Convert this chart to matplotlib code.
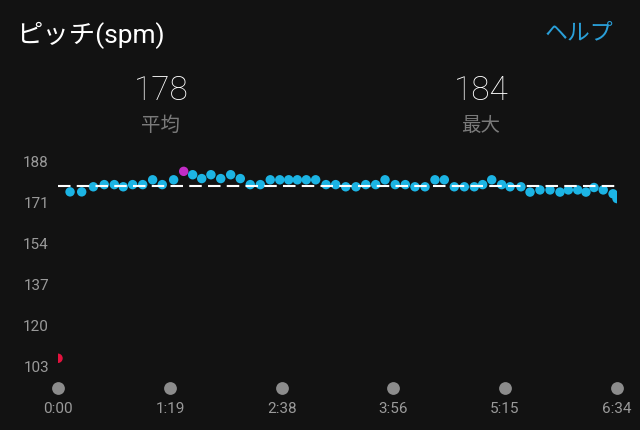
import matplotlib
matplotlib.use("Agg")
import matplotlib.pyplot as plt
import matplotlib.transforms as mtransforms

# ---- data ----
times = [0, 8.5, 16.7, 24.9, 32.6, 39.7, 46.0, 52.6, 59.7, 66.7, 73.5, 81.5, 88.6,
         94.9, 101.3, 107.8, 114.7, 121.7, 128.5, 135.5, 142.6, 149.6, 156.3, 162.6,
         168.7, 175.0, 181.6, 188.9, 195.7, 202.8, 210.0, 216.9, 223.9, 230.5, 237.7,
         244.8, 251.6, 258.7, 265.7, 272.3, 279.3, 286.4, 293.4, 299.3, 305.7, 312.7,
         318.6, 326.3, 332.7, 339.7, 346.8, 353.8, 359.7, 366.3, 372.1, 377.8, 384.3,
         391.2, 394]
cadence = [106.5, 175.5, 175.5, 177.6, 178.5, 178.5, 177.6, 178.5, 178.5, 180.5, 178.5,
           180.5, 184.0, 182.6, 181.0, 182.6, 181.0, 182.6, 181.0, 178.5, 178.5, 180.5,
           180.5, 180.5, 180.5, 180.5, 180.5, 178.5, 178.5, 177.6, 177.6, 178.5, 178.5,
           180.5, 178.5, 178.5, 177.6, 177.6, 180.5, 180.5, 177.6, 177.6, 177.6, 178.5,
           180.5, 178.5, 177.6, 177.6, 175.4, 176.3, 176.3, 175.4, 176.3, 176.3, 175.4,
           177.3, 176.3, 174.7, 172.7]
avg_value = 178
max_value = 184
y_ticks = [103, 120, 137, 154, 171, 188]
x_tick_secs = [0, 79, 158, 236, 315, 394]
x_tick_labels = ["0:00", "1:19", "2:38", "3:56", "5:15", "6:34"]
title = "ピッチ(spm)"
help_text = "ヘルプ"
stat_values = ["178", "184"]
stat_labels = ["平均", "最大"]

BG = "#121212"
BLUE = "#1cb4e4"
MAGENTA = "#c22cc6"
RED = "#e3123e"
FAM = ["Roboto", "Noto Sans CJK JP", "DejaVu Sans"]
plt.rcParams["font.family"] = FAM

W, H = 640, 430
fig = plt.figure(figsize=(6.4, 4.3), dpi=100, facecolor=BG)

# axes: x pixel 58..617, y pixel 150..372
ax = fig.add_axes([58 / W, (H - 372) / H, (617 - 58) / W, (372 - 150) / H])
ax.set_facecolor(BG)
ax.set_xlim(0, 394)
ax.set_ylim(100.81, 192.85)
for s in ax.spines.values():
    s.set_visible(False)

colors = []
for v in cadence:
    if v >= max_value:
        colors.append(MAGENTA)
    elif v < 150:
        colors.append(RED)
    else:
        colors.append(BLUE)

ax.scatter(times, cadence, s=46, c=colors, edgecolors="none", zorder=3, clip_on=True)
ax.axhline(avg_value, color="white", lw=1.5, dashes=(6, 3), zorder=4)

ax.set_yticks(y_ticks)
ax.set_yticklabels([str(t) for t in y_ticks])
ax.tick_params(axis="y", length=0, pad=6.5, labelsize=11, labelcolor="#9a9a9a")
ax.set_xticks([])

trans = mtransforms.blended_transform_factory(ax.transData, ax.transAxes)
for sec, lab in zip(x_tick_secs, x_tick_labels):
    ax.plot([sec], [-16 / 222], marker="o", ms=9.2, color="#8c8c8c", mec="none",
            transform=trans, clip_on=False)
    ax.text(sec, -37 / 222, lab, transform=trans, ha="center", va="center",
            fontsize=11, color="#9a9a9a")

# header texts
fig.text(16 / W, 1 - 35 / H, title, ha="left", va="center", fontsize=19, color="white")
fig.text(613 / W, 1 - 33 / H, help_text, ha="right", va="center", fontsize=16.5, color="#2a9fd8")
for xc, val, lab in zip([161, 481], stat_values, stat_labels):
    fig.text(xc / W, 1 - 91 / H, val, ha="center", va="center", fontsize=24,
             color="white", fontweight="light")
    fig.text(xc / W, 1 - 126 / H, lab, ha="center", va="center", fontsize=14,
             color="#7a7a7a")

fig.savefig("out.png", dpi=100, facecolor=BG)
